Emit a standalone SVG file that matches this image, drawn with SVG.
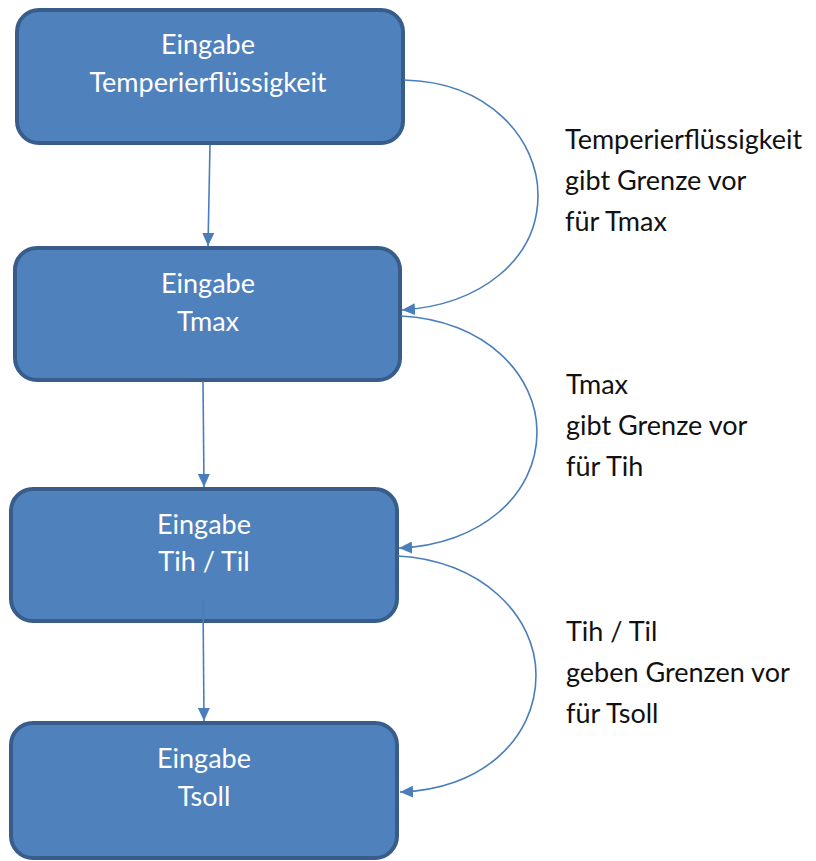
<svg xmlns="http://www.w3.org/2000/svg" width="816" height="861" viewBox="0 0 816 861">
<style>
.box{fill:#4f81bd;stroke:#385d8a;stroke-width:4}
.bt{font-family:Lato,"Open Sans",sans-serif;font-size:27px;fill:#ffffff;text-anchor:middle}
.lt{font-family:Lato,"Open Sans",sans-serif;font-size:27px;fill:#111111}
.c{fill:none;stroke:#4a7ebb;stroke-width:1.6;marker-end:url(#ah)}
</style>
<defs>
<marker id="ah" markerUnits="userSpaceOnUse" markerWidth="14" markerHeight="12" refX="13" refY="6" orient="auto">
<path d="M0,0 L13,6 L0,12 Z" fill="#4a7ebb"/>
</marker>
</defs>
<rect width="816" height="861" fill="#ffffff"/>
<g id="n1"><rect class="box" x="17" y="10" width="386" height="133" rx="22"/><text class="bt" x="208" y="54">Eingabe</text><text class="bt" x="208" y="92">Temperierflüssigkeit</text></g>
<g id="n2"><rect class="box" x="15" y="248" width="385" height="132" rx="22"/><text class="bt" x="208" y="293">Eingabe</text><text class="bt" x="208" y="331">Tmax</text></g>
<g id="n3"><rect class="box" x="11" y="489" width="386" height="132" rx="22"/><text class="bt" x="204" y="534">Eingabe</text><text class="bt" x="204" y="571">Tih / Til</text></g>
<g id="n4"><rect class="box" x="11" y="723" width="386" height="135" rx="22"/><text class="bt" x="204" y="768">Eingabe</text><text class="bt" x="204" y="806">Tsoll</text></g>
<g id="connectors">
<path class="c" d="M210,145 L208,246"/>
<path class="c" d="M203,381 L204,487"/>
<path class="c" d="M203,601 L204,721"/>
<path class="c" d="M404,80 C490,82 538,140 538,195 C538,260 480,305 402,310"/>
<path class="c" d="M401,316 C485,320 537,375 537,432 C537,495 480,545 399,548"/>
<path class="c" d="M398,556 C480,560 536,615 536,675 C536,740 480,790 400,792"/>
</g>
<g id="labels">
<text class="lt" x="565" y="149">Temperierflüssigkeit</text>
<text class="lt" x="565" y="190">gibt Grenze vor</text>
<text class="lt" x="565" y="231">für Tmax</text>
<text class="lt" x="566" y="394">Tmax</text>
<text class="lt" x="566" y="435">gibt Grenze vor</text>
<text class="lt" x="566" y="476">für Tih</text>
<text class="lt" x="566" y="641">Tih / Til</text>
<text class="lt" x="566" y="682">geben Grenzen vor</text>
<text class="lt" x="566" y="723">für Tsoll</text>
</g>
</svg>
